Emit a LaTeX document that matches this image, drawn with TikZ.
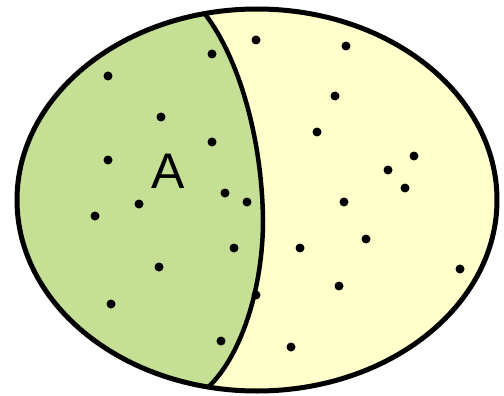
\documentclass[tikz,border=0pt]{standalone}
\usepackage{fontspec}
\setmainfont{Liberation Sans}
\definecolor{setgreen}{RGB}{197,223,149}
\definecolor{setyellow}{RGB}{255,255,204}
\begin{document}
\begin{tikzpicture}[x=1pt,y=-1pt,
  pt/.style={circle,fill=black,inner sep=0pt,minimum size=9pt},
  outline/.style={line width=5pt,draw=black}]
\useasboundingbox (0,0) rectangle (504,396);
\fill[setyellow] (257,200) ellipse [x radius=240, y radius=191];
\begin{scope}
  \clip (257,200) ellipse [x radius=240, y radius=191];
  \fill[setgreen] (0,0) -- (205,0) -- (205,14) .. controls (240,60) and (262,140) .. (263,220) .. controls (263,290) and (240,360) .. (205,390) -- (205,396) -- (0,396) -- cycle;
  \draw[line width=4.5pt] (205,14) .. controls (240,60) and (262,140) .. (263,220) .. controls (263,290) and (240,360) .. (205,390);
\end{scope}
\draw[outline] (257,200) ellipse [x radius=240, y radius=191];
\node[font=\fontsize{50}{50}\selectfont] (A) at (168,171) {A};
\foreach \x/\y [count=\i] in {212/54,256/40,346/46,108/76,335/96,161/117,317/132,212/142,108/160,414/156,388/170,405/188,225/193,247/202,139/204,344/202,95/216,366/239,234/248,300/248,159/267,460/269,339/286,256/295,111/304,221/341,291/347}
  \node[pt] (p\i) at (\x,\y) {};
\end{tikzpicture}
\end{document}
